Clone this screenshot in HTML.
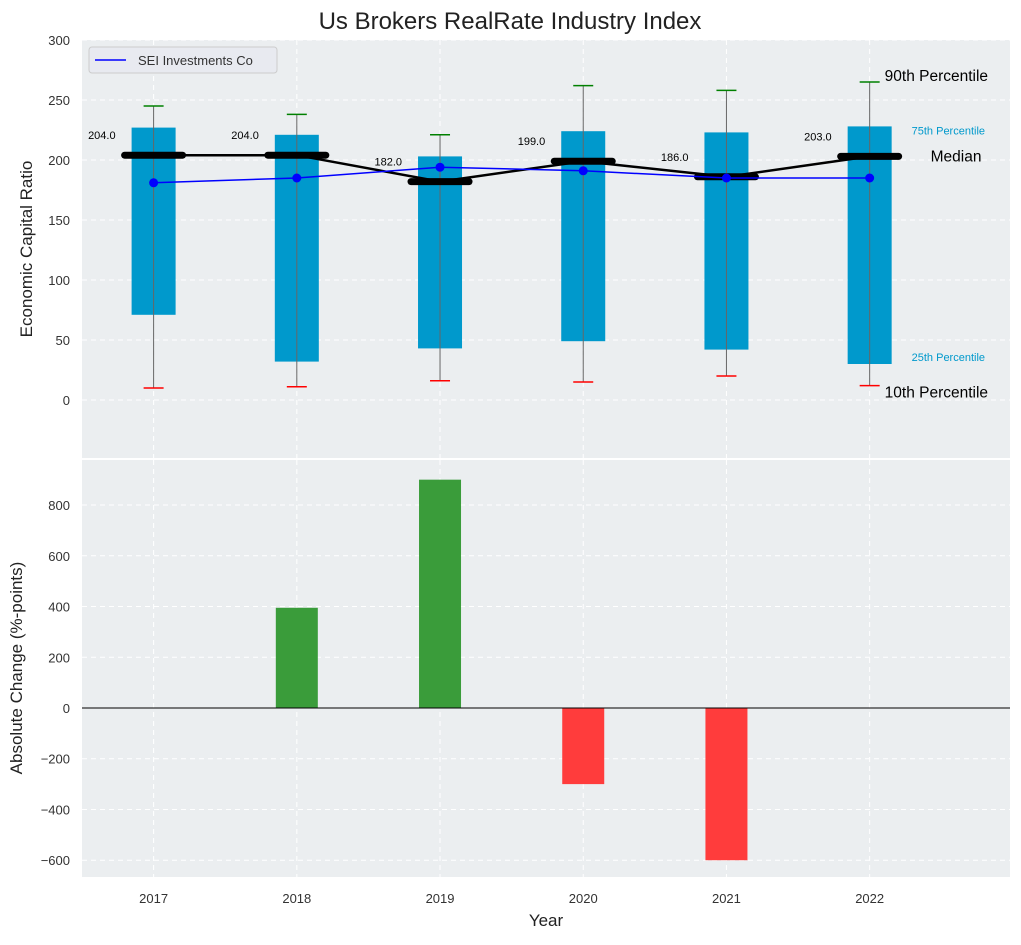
<!DOCTYPE html>
<html><head><meta charset="utf-8"><style>
body{margin:0;background:#fff;}
svg text{font-family:"Liberation Sans",Arial,sans-serif;}
</style></head><body>
<svg id="chart" width="1021" height="940" xmlns="http://www.w3.org/2000/svg"></svg>
<script>
const years=[2017,2018,2019,2020,2021,2022];
const p10=[10,11,16,15,20,12];
const p25=[71,32,43,49,42,30];
const p50=[204,204,182,199,186,203];
const p75=[227,221,203,224,223,228];
const p90=[245,238,221,262,258,265];
const company=[181,185,194,191,185,185];
const changes=[0,395,900,-300,-600,0];
const topTicks=[0,50,100,150,200,250,300];
const botTicks=[-600,-400,-200,0,200,400,600,800];

const NS="http://www.w3.org/2000/svg";
const svg=document.getElementById('chart');
function el(tag,attrs,parent){const e=document.createElementNS(NS,tag);for(const k in attrs)e.setAttribute(k,attrs[k]);(parent||svg).appendChild(e);return e;}
const L=82,R=1010;
const x=v=>L+(v-2016.5)/(2022.98-2016.5)*(R-L);
const T0=40,T1=458; const yT=v=>400-v*1.2;
const B0=460,B1=877; const yB=v=>708-v*0.2537;
const bg="#ebeef0";

let r=el('rect',{x:L,y:T0,width:R-L,height:T1-T0,fill:bg});

r=el('rect',{x:L,y:B0,width:R-L,height:B1-B0,fill:bg});


years.forEach(yv=>{
 el('line',{x1:x(yv),x2:x(yv),y1:T0,y2:T1,stroke:'#fff','stroke-dasharray':'5,4','stroke-width':1});
 el('line',{x1:x(yv),x2:x(yv),y1:B0,y2:B1,stroke:'#fff','stroke-dasharray':'5,4','stroke-width':1});
 let t=el('text',{x:x(yv),y:903,'text-anchor':'middle','font-size':13,fill:'#333'});t.textContent=yv;
 
});
topTicks.forEach(v=>{
 el('line',{x1:L,x2:R,y1:yT(v),y2:yT(v),stroke:'#fff','stroke-dasharray':'5,4','stroke-width':1});
 let t=el('text',{x:L-12,y:yT(v)+5,'text-anchor':'end','font-size':13,fill:'#333'});t.textContent=v;
 
});
botTicks.forEach(v=>{
 el('line',{x1:L,x2:R,y1:yB(v),y2:yB(v),stroke:'#fff','stroke-dasharray':'5,4','stroke-width':1});
 let t=el('text',{x:L-12,y:yB(v)+5,'text-anchor':'end','font-size':13,fill:'#333'});t.textContent=v===0?'0':(v<0?'\u2212'+(-v):v);
 
});

years.forEach((yv,i)=>{
 const cx=x(yv);
 let b=el('rect',{x:cx-22,y:yT(p75[i]),width:44,height:yT(p25[i])-yT(p75[i]),fill:'#0099cc'});
 
 el('line',{x1:cx,x2:cx,y1:yT(p90[i]),y2:yT(p10[i]),stroke:'#666','stroke-width':1});
 let c=el('line',{x1:cx-10,x2:cx+10,y1:yT(p90[i]),y2:yT(p90[i]),stroke:'green','stroke-width':1.5});
 
 c=el('line',{x1:cx-10,x2:cx+10,y1:yT(p10[i]),y2:yT(p10[i]),stroke:'red','stroke-width':1.5});
 
});
let mp=el('polyline',{points:years.map((yv,i)=>x(yv)+','+yT(p50[i])).join(' '),fill:'none',stroke:'#000','stroke-width':2.5});

years.forEach((yv,i)=>{
 const cx=x(yv);
 let m=el('line',{x1:cx-29,x2:cx+29,y1:yT(p50[i]),y2:yT(p50[i]),stroke:'#000','stroke-width':7,'stroke-linecap':'round'});
 
 let t=el('text',{x:cx-38,y:yT(p50[i])-16,'text-anchor':'end','font-size':11,fill:'#000'});t.textContent=p50[i].toFixed(1);
 
});
let cp=el('polyline',{points:years.map((yv,i)=>x(yv)+','+yT(company[i])).join(' '),fill:'none',stroke:'#0000ff','stroke-width':1.5});

years.forEach((yv,i)=>{let c=el('circle',{cx:x(yv),cy:yT(company[i]),r:4.5,fill:'#0000ff'});
 });

const last=years.length-1,lx=x(years[last]);
function lab(txt,xx,yy,sz,col,name){let t=el('text',{x:xx,y:yy,'font-size':sz,fill:col});t.textContent=txt;}
lab('90th Percentile',lx+15,yT(p90[last])-1,15.5,'#000','p90-label');
lab('75th Percentile',lx+42,yT(p75[last])+8,11,'#0099cc','p75-label');
lab('Median',lx+61,yT(p50[last])+5,15.5,'#000','median-label');
lab('25th Percentile',lx+42,yT(p25[last])-3,11,'#0099cc','p25-label');
lab('10th Percentile',lx+15,yT(p10[last])+12,15.5,'#000','p10-label');

let lg=el('g',{});
el('rect',{x:89,y:47,width:188,height:26,rx:3,fill:'#e8eaf0',stroke:'#ccc'},lg);
el('line',{x1:95,x2:126,y1:60,y2:60,stroke:'#0000ff','stroke-width':1.5},lg);
let lt=el('text',{x:138,y:65,'font-size':13,fill:'#333'},lg);lt.textContent='SEI Investments Co';

years.forEach((yv,i)=>{
 const v=changes[i];if(v===0)return;
 let b=el('rect',{x:x(yv)-21,y:Math.min(yB(v),yB(0)),width:42,height:Math.abs(yB(v)-yB(0)),fill:v>0?'#3a9c3a':'#ff3c3c'});
 
});
el('line',{x1:L,x2:R,y1:yB(0),y2:yB(0),stroke:'#000','stroke-width':1});

lab('Us Brokers RealRate Industry Index',0,0,24,'#222','chart-title');
let tt=svg.lastChild;tt.setAttribute('x',510);tt.setAttribute('y',29);tt.setAttribute('text-anchor','middle');
let yt=el('text',{x:0,y:0,'font-size':17,fill:'#222','text-anchor':'middle',transform:'translate(32,249) rotate(-90)'});yt.textContent='Economic Capital Ratio';

yt=el('text',{x:0,y:0,'font-size':17,fill:'#222','text-anchor':'middle',transform:'translate(22,668) rotate(-90)'});yt.textContent='Absolute Change (%-points)';

let xt=el('text',{x:546,y:926,'font-size':17,fill:'#222','text-anchor':'middle'});xt.textContent='Year';

</script>
</body></html>
